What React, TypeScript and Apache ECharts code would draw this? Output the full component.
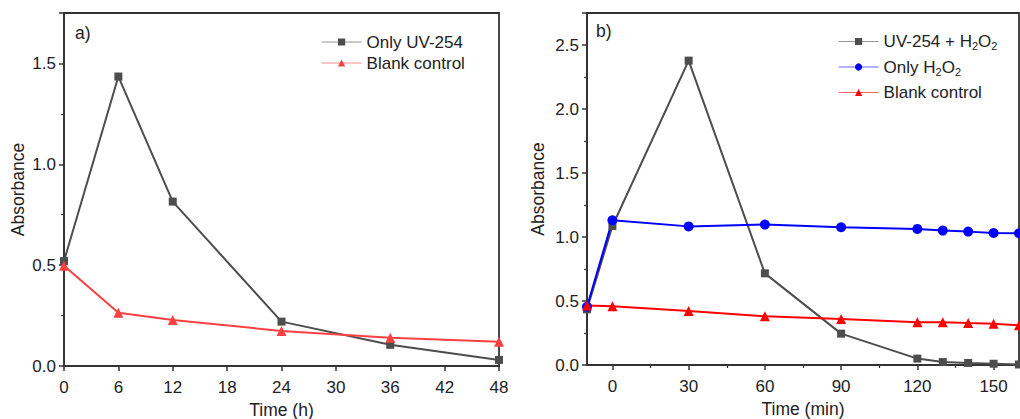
import React, { useEffect, useRef } from "react";
import * as echarts from "echarts";

// Panel a): absorbance over hours
const hoursA = [0, 6, 12, 24, 36, 48];
const uvOnlyA = [0.52, 1.435, 0.815, 0.22, 0.105, 0.03];
const blankA = [0.497, 0.264, 0.228, 0.174, 0.14, 0.12];

// Panel b): absorbance over minutes
const minutesB = [-10, 0, 30, 60, 90, 120, 130, 140, 150, 160];
const uvH2O2B = [0.435, 1.086, 2.378, 0.716, 0.245, 0.05, 0.023, 0.016, 0.01, 0.004];
const h2o2OnlyB = [0.455, 1.13, 1.083, 1.097, 1.076, 1.063, 1.05, 1.042, 1.031, 1.029];
const blankB = [0.464, 0.459, 0.422, 0.38, 0.36, 0.334, 0.334, 0.328, 0.323, 0.31];

const majorTicksB = [0, 30, 60, 90, 120, 150];
const minorTicksB = [15, 45, 75, 105, 135];

const legendLabels: Record<string, string> = {
  uvOnlyA: "{n|Only UV-254}",
  blankA: "{n|Blank control}",
  uvH2O2B: "{n|UV-254 + H}{s|2}{n|O}{s|2}",
  h2o2OnlyB: "{n|Only H}{s|2}{n|O}{s|2}",
  blankB: "{n|Blank control}{s| }",
};

const FONT = "'Liberation Sans', Arial, sans-serif";
const AXIS_COLOR = "#333";
const TEXT_COLOR = "#222";

const zip = (xs: number[], ys: number[]) => xs.map((x, i) => [x, ys[i]]);

const halfStepLabel = (v: number) =>
  Math.abs(v * 2 - Math.round(v * 2)) < 1e-6 ? v.toFixed(1) : "";

const axisLine = { onZero: false, lineStyle: { color: AXIS_COLOR, width: 1.8 } };
const axisTick = { length: 5, lineStyle: { color: AXIS_COLOR, width: 1.5 } };
const minorTick = {
  show: true,
  splitNumber: 2,
  length: 3,
  lineStyle: { color: AXIS_COLOR, width: 1.2 },
};
const labelStyle = { color: TEXT_COLOR, fontSize: 17, fontFamily: FONT };
const nameStyle = { color: TEXT_COLOR, fontSize: 17.5, fontFamily: FONT };

const richText = {
  n: { fontSize: 17, fontFamily: FONT, color: TEXT_COLOR, lineHeight: 21 },
  s: {
    fontSize: 11,
    fontFamily: FONT,
    color: TEXT_COLOR,
    lineHeight: 12,
    padding: [9, 0, 0, 0],
  },
};

function lineSeries(
  name: string,
  data: number[][],
  color: string,
  symbol: string,
  symbolSize: number,
  axisIndex: number
) {
  return {
    name,
    type: "line",
    xAxisIndex: axisIndex === 0 ? 0 : 1,
    yAxisIndex: axisIndex,
    data,
    symbol,
    symbolSize,
    showAllSymbol: true,
    lineStyle: { color, width: 2 },
    itemStyle: { color },
    z: 3,
  };
}

export default function App() {
  const ref = useRef<HTMLDivElement>(null);

  useEffect(() => {
    if (!ref.current) return;
    const chart = echarts.init(ref.current, undefined, { renderer: "svg" });

    chart.setOption({
      animation: false,
      backgroundColor: "#fff",
      grid: [
        {
          left: 64,
          top: 13,
          width: 435,
          height: 353,
          outerBoundsMode: "none",
          containLabel: false,
          show: true,
          borderColor: AXIS_COLOR,
          borderWidth: 1.8,
        },
        {
          left: 587,
          top: 13,
          width: 432,
          height: 352,
          outerBoundsMode: "none",
          containLabel: false,
          show: true,
          borderColor: AXIS_COLOR,
          borderWidth: 1.8,
        },
      ],
      xAxis: [
        {
          type: "value",
          gridIndex: 0,
          min: 0,
          max: 48,
          interval: 6,
          name: "Time (h)",
          nameLocation: "middle",
          nameGap: 32,
          nameTextStyle: nameStyle,
          axisLine,
          axisTick,
          minorTick: { show: false },
          splitLine: { show: false },
          axisLabel: { ...labelStyle, margin: 13 },
        },
        {
          type: "value",
          gridIndex: 1,
          min: -10,
          max: 160,
          name: "Time (min)",
          nameLocation: "middle",
          nameGap: 33,
          nameTextStyle: nameStyle,
          axisLine,
          axisTick: { ...axisTick, customValues: majorTicksB },
          splitLine: { show: false },
          axisLabel: { ...labelStyle, margin: 13, customValues: majorTicksB },
        },
        {
          type: "value",
          gridIndex: 1,
          position: "bottom",
          min: -10,
          max: 160,
          axisLine: { show: false, onZero: false },
          axisTick: {
            length: 3,
            lineStyle: { color: AXIS_COLOR, width: 1.2 },
            customValues: minorTicksB,
          },
          splitLine: { show: false },
          axisLabel: { show: false, customValues: minorTicksB },
        },
      ],
      yAxis: [
        {
          type: "value",
          gridIndex: 0,
          min: 0,
          max: 1.75,
          interval: 0.5,
          name: "Absorbance",
          nameLocation: "middle",
          nameGap: 37,
          nameTextStyle: nameStyle,
          axisLine,
          axisTick,
          minorTick,
          splitLine: { show: false },
          axisLabel: {
            ...labelStyle,
            margin: 8,
            showMaxLabel: false,
            formatter: halfStepLabel,
          },
        },
        {
          type: "value",
          gridIndex: 1,
          min: 0,
          max: 2.75,
          interval: 0.5,
          name: "Absorbance",
          nameLocation: "middle",
          nameGap: 40,
          nameTextStyle: nameStyle,
          axisLine,
          axisTick,
          minorTick,
          splitLine: { show: false },
          axisLabel: {
            ...labelStyle,
            margin: 8,
            showMaxLabel: false,
            formatter: halfStepLabel,
          },
        },
      ],
      legend: [
        {
          data: ["uvOnlyA", "blankA"],
          orient: "vertical",
          left: 321,
          top: 33.5,
          padding: 0,
          itemWidth: 40,
          itemHeight: 9,
          itemGap: 4,
          lineStyle: { width: 1.2, opacity: 0.6 },
          formatter: (name: string) => legendLabels[name],
          textStyle: { rich: richText, fontSize: 17, color: TEXT_COLOR },
          selectedMode: false,
        },
        {
          data: ["uvH2O2B", "h2o2OnlyB", "blankB"],
          orient: "vertical",
          left: 838,
          top: 31.5,
          padding: 0,
          itemWidth: 40,
          itemHeight: 9,
          itemGap: 5.5,
          lineStyle: { width: 1.2, opacity: 0.6 },
          formatter: (name: string) => legendLabels[name],
          textStyle: { rich: richText, fontSize: 17, color: TEXT_COLOR },
          selectedMode: false,
        },
      ],
      graphic: [
        {
          type: "text",
          left: 75,
          top: 24,
          style: { text: "a)", fontSize: 17.5, fontFamily: FONT, fill: TEXT_COLOR },
        },
        {
          type: "text",
          left: 596,
          top: 22,
          style: { text: "b)", fontSize: 17.5, fontFamily: FONT, fill: TEXT_COLOR },
        },
      ],
      series: [
        lineSeries("uvOnlyA", zip(hoursA, uvOnlyA), "#4d4d4d", "rect", 8, 0),
        lineSeries("blankA", zip(hoursA, blankA), "#ff4040", "triangle", 10, 0),
        lineSeries("uvH2O2B", zip(minutesB, uvH2O2B), "#4d4d4d", "rect", 8, 1),
        lineSeries("h2o2OnlyB", zip(minutesB, h2o2OnlyB), "#0000ff", "circle", 10, 1),
        lineSeries("blankB", zip(minutesB, blankB), "#ff0000", "triangle", 10, 1),
      ],
    });

    return () => chart.dispose();
  }, []);

  return (
    <div
      ref={ref}
      style={{ position: "absolute", left: 0, top: 0, width: 1020, height: 419 }}
    />
  );
}
